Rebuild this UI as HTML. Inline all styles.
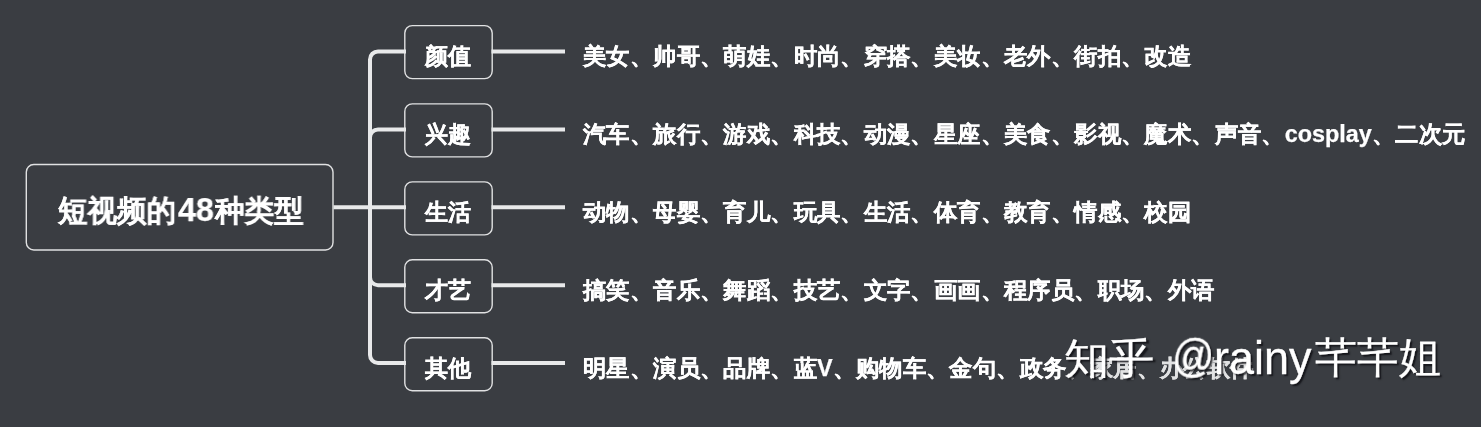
<!DOCTYPE html>
<html><head><meta charset="utf-8">
<style>
html,body{margin:0;padding:0;}
body{width:1481px;height:427px;background:#3a3d42;position:relative;overflow:hidden;font-family:"Liberation Sans",sans-serif;color:#fff;}
svg{position:absolute;left:0;top:0;}
.t{position:absolute;white-space:nowrap;font-weight:bold;line-height:1;transform-origin:0 0;will-change:transform;-webkit-text-stroke:0.25px #fff;}
.root{top:196px;font-size:30px;transform:scaleX(0.985);}
.b{font-size:23px;left:425px;}
.r{font-size:23px;left:583px;}
.wm{will-change:transform;position:absolute;top:333px;font-weight:normal;line-height:1;white-space:nowrap;color:#fff;text-shadow:2px 2px 1.5px rgba(15,15,20,0.85);-webkit-text-stroke:0.3px #fff;transform-origin:0 0;}
</style></head><body>
<svg width="1481" height="427" viewBox="0 0 1481 427">
<g fill="#3a3d42" stroke="#e0e1e2" stroke-width="1.4">
<rect x="26.3" y="164.5" width="306.7" height="85.5" rx="7.5"/>
<rect x="404.8" y="25.6" width="87.4" height="53" rx="7.5"/>
<rect x="404.8" y="103.9" width="87.4" height="53" rx="7.5"/>
<rect x="404.8" y="181.9" width="87.4" height="53" rx="7.5"/>
<rect x="404.8" y="259.8" width="87.4" height="53" rx="7.5"/>
<rect x="404.8" y="337.7" width="87.4" height="53" rx="7.5"/>
</g>
<g fill="none" stroke="#e8e9ea" stroke-width="4" stroke-linecap="butt">
<path d="M333.5 207.3 H406"/>
<path d="M370 207.3 V59.4 A8 8 0 0 1 378 51.4 H406"/>
<path d="M370 207.3 V137.4 A8 8 0 0 1 378 129.4 H406"/>
<path d="M370 207.3 V277.2 A8 8 0 0 0 378 285.2 H406"/>
<path d="M370 207.3 V355 A8 8 0 0 0 378 363 H406"/>
<path d="M491.5 51.4 H565"/>
<path d="M491.5 129.4 H565"/>
<path d="M491.5 207.3 H565"/>
<path d="M491.5 285.2 H565"/>
<path d="M491.5 363 H565"/>
</g>
</svg>
<div class="t root" style="left:58px">短视频的</div><div class="t root" style="left:177.5px;top:192.5px;font-size:33px;transform:scaleX(0.98)">48</div><div class="t root" style="left:215px">种类型</div>
<div class="t b" style="top:45px">颜值</div>
<div class="t b" style="top:123px">兴趣</div>
<div class="t b" style="top:201px">生活</div>
<div class="t b" style="top:279px">才艺</div>
<div class="t b" style="top:357px">其他</div>
<div class="t r" style="top:45px;transform:scaleX(1.017)">美女、帅哥、萌娃、时尚、穿搭、美妆、老外、街拍、改造</div>
<div class="t r" style="top:123px;transform:scaleX(1.017)">汽车、旅行、游戏、科技、动漫、星座、美食、影视、魔术、声音、cosplay、二次元</div>
<div class="t r" style="top:201px;transform:scaleX(1.017)">动物、母婴、育儿、玩具、生活、体育、教育、情感、校园</div>
<div class="t r" style="top:279px;transform:scaleX(1.017)">搞笑、音乐、舞蹈、技艺、文字、画画、程序员、职场、外语</div>
<div class="t r" style="top:357px;transform:scaleX(1.017)">明星、演员、品牌、蓝V、购物车、金句、政务<span style="filter:blur(0.6px);opacity:0.85">、家居、办公软件</span></div>
<div class="wm" style="left:1064px;top:338px;font-size:42px;transform:scaleX(1.08)">知乎</div>
<div class="wm" style="left:1172px;top:332px;font-size:44px;transform:scale(0.95,1.07)">@</div>
<div class="wm" style="left:1214px;top:335px;font-size:43px;transform:scale(1.045,1.09)">rainy</div>
<div class="wm" style="left:1315px;top:337px;font-size:42px;">芊芊姐</div>
</body></html>
